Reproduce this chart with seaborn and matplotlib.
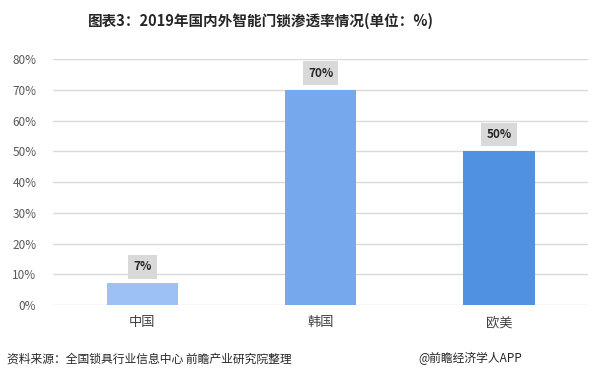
import matplotlib
matplotlib.use("Agg")
import matplotlib.pyplot as plt
import matplotlib.ticker as mtick
import seaborn as sns
import pandas as pd

sns.set_theme(style="white")
plt.rcParams['font.family'] = ['Noto Sans CJK SC', 'DejaVu Sans']

categories = ['中国', '韩国', '欧美']
rates = [0.07, 0.70, 0.50]
labels = ['7%', '70%', '50%']
colors = ['#9cc2f4', '#75a8ec', '#5091e2']
yticks = [0, 0.1, 0.2, 0.3, 0.4, 0.5, 0.6, 0.7, 0.8]

df = pd.DataFrame({'region': categories, 'rate': rates})

fig = plt.figure(figsize=(5.97, 3.81), dpi=100)
ax = fig.add_axes([0.0888, 0.1995, 0.8962, 0.6455])

sns.barplot(data=df, x='region', y='rate', hue='region', palette=colors,
            width=0.4, saturation=1, linewidth=0, legend=False, ax=ax, zorder=3)

ax.set_ylim(0, 0.8)
ax.set_yticks(yticks)
ax.yaxis.set_major_formatter(mtick.PercentFormatter(xmax=1, decimals=0))
ax.grid(axis='y', color='#d9d9d9', linewidth=1, zorder=0)
ax.grid(axis='x', visible=False)
ax.tick_params(axis='y', labelsize=8.5, colors='#595959', length=0, pad=12)
ax.tick_params(axis='x', labelsize=9.5, colors='#404040', length=0, pad=8)
ax.set_xlabel('')
ax.set_ylabel('')
sns.despine(ax=ax, left=True, top=True, right=True, bottom=True)

for i, (v, lab) in enumerate(zip(rates, labels)):
    ax.annotate(lab, xy=(i, v), xytext=(0, 12), textcoords='offset points',
                ha='center', va='center', fontsize=8.5, fontweight='bold',
                color='#262626', zorder=5,
                bbox=dict(boxstyle='square,pad=0.45', fc='#d9d9d9', ec='none'))

fig.text(0.437, 0.945, '图表3：2019年国内外智能门锁渗透率情况(单位：%)',
         ha='center', va='center', fontsize=10.5, fontweight='bold', color='#262626')
fig.text(0.012, 0.058, '资料来源：全国锁具行业信息中心 前瞻产业研究院整理',
         ha='left', va='center', fontsize=8.5, color='#262626')
fig.text(0.70, 0.058, '@前瞻经济学人APP',
         ha='left', va='center', fontsize=8.5, color='#262626')

fig.savefig('out.png', dpi=100)
